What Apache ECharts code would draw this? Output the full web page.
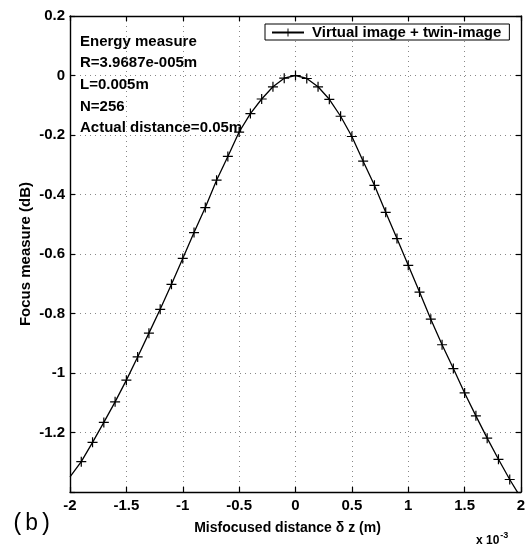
<!DOCTYPE html>
<html>
<head>
<meta charset="utf-8">
<script src="https://cdn.jsdelivr.net/npm/echarts@6/dist/echarts.min.js"></script>
<style>
  html, body { margin: 0; padding: 0; background: #fff; }
  #chart { width: 530px; height: 547px; }
</style>
</head>
<body>
<div id="chart"></div>
<script>
// Misfocused distance, in units of 1e-3 m
const distance = [
  -2.0, -1.9, -1.8, -1.7, -1.6, -1.5, -1.4, -1.3, -1.2, -1.1,
  -1.0, -0.9, -0.8, -0.7, -0.6, -0.5, -0.4, -0.3, -0.2, -0.1,
   0.0,  0.1,  0.2,  0.3,  0.4,  0.5,  0.6,  0.7,  0.8,  0.9,
   1.0,  1.1,  1.2,  1.3,  1.4,  1.5,  1.6,  1.7,  1.8,  1.9, 2.0
];
// Focus measure (dB), virtual image + twin-image
const focusMeasure = [
  -1.349, -1.298, -1.233, -1.166, -1.097, -1.024, -0.946, -0.866, -0.786, -0.702,
  -0.615, -0.528, -0.444, -0.352, -0.272, -0.190, -0.128, -0.079, -0.038, -0.009,
   0.000, -0.010, -0.038, -0.080, -0.137, -0.205, -0.288, -0.369, -0.460, -0.548,
  -0.638, -0.728, -0.819, -0.905, -0.985, -1.067, -1.144, -1.219, -1.290, -1.358, -1.420
];
const xTicks = { min: -2, max: 2, step: 0.5 };
const yTicks = { min: -1.4, max: 0.2, step: 0.2 };
const seriesName = 'Virtual image + twin-image';
const infoLines = [
  'Energy measure',
  'R=3.9687e-005m',
  'L=0.005m',
  'N=256',
  'Actual distance=0.05m'
];

const FONT = '"Liberation Sans", Arial, sans-serif';
const PLUS = 'path://M0,4.4H10V5.6H0Z M4.4,0H5.6V10H4.4Z';

function fmt(v) {
  const r = Math.round(v * 1000) / 1000;
  return String(r);
}

const points = distance.map((x, i) => {
  const item = { value: [x, focusMeasure[i]] };
  if (i === 0 || i === distance.length - 1) item.symbol = 'none';
  return item;
});

const frameAxis = {
  axisLine: { show: true, onZero: false, lineStyle: { color: '#000', width: 1.4 } },
  axisTick: { show: true, inside: true, length: 5, lineStyle: { color: '#000', width: 1.2 } }
};

const chart = echarts.init(document.getElementById('chart'), null, { renderer: 'canvas' });
chart.setOption({
  backgroundColor: '#fff',
  animation: false,
  grid: { left: 70, right: 9, top: 16, bottom: 55, containLabel: false },
  legend: {
    show: true,
    data: [seriesName],
    left: 265,
    top: 24,
    padding: [1, 8, 0, 6],
    itemWidth: 32,
    itemHeight: 10,
    borderColor: '#000',
    borderWidth: 1,
    borderRadius: 0,
    backgroundColor: '#fff',
    textStyle: { fontFamily: FONT, fontSize: 15, fontWeight: 'bold', color: '#000', padding: [0, 0, 0, 3] }
  },
  xAxis: [
    Object.assign({
      type: 'value', position: 'bottom',
      min: xTicks.min, max: xTicks.max, interval: xTicks.step,
      name: 'Misfocused distance \u03b4 z (m)',
      nameLocation: 'middle', nameGap: 29, nameMoveOverlap: false,
      nameTextStyle: { fontFamily: FONT, fontSize: 14, fontWeight: 'bold', color: '#000', padding: [0, 16, 0, 0] },
      axisLabel: {
        show: true, margin: 6, color: '#000', fontFamily: FONT, fontSize: 15, fontWeight: 'bold',
        showMinLabel: true, showMaxLabel: true, formatter: fmt
      },
      splitLine: { show: true, lineStyle: { color: '#888', type: [1, 4], width: 1 } }
    }, frameAxis),
    Object.assign({
      type: 'value', position: 'top',
      min: xTicks.min, max: xTicks.max, interval: xTicks.step,
      axisLabel: { show: false }, splitLine: { show: false }
    }, frameAxis)
  ],
  yAxis: [
    Object.assign({
      type: 'value', position: 'left',
      min: yTicks.min, max: yTicks.max, interval: yTicks.step,
      name: 'Focus measure (dB)',
      nameLocation: 'middle', nameGap: 37, nameRotate: 90, nameMoveOverlap: false,
      nameTextStyle: { fontFamily: FONT, fontSize: 15, fontWeight: 'bold', color: '#000' },
      axisLabel: {
        show: true, margin: 5, color: '#000', fontFamily: FONT, fontSize: 15, fontWeight: 'bold',
        showMinLabel: true, showMaxLabel: true,
        formatter: v => (Math.abs(v - yTicks.min) < 1e-9 ? '' : fmt(v))
      },
      splitLine: { show: true, lineStyle: { color: '#888', type: [1, 4], width: 1 } }
    }, frameAxis),
    Object.assign({
      type: 'value', position: 'right',
      min: yTicks.min, max: yTicks.max, interval: yTicks.step,
      axisLabel: { show: false }, splitLine: { show: false }
    }, frameAxis)
  ],
  series: [{
    name: seriesName,
    type: 'line',
    xAxisIndex: 0,
    yAxisIndex: 0,
    data: points,
    clip: true,
    symbol: PLUS,
    symbolSize: 10,
    showAllSymbol: true,
    lineStyle: { color: '#000', width: 1.3 },
    itemStyle: { color: '#000', borderWidth: 0 },
    emphasis: { disabled: true }
  }],
  graphic: [
    ...infoLines.map((t, i) => ({
      type: 'text', left: 80, top: 34 + i * 21.7,
      style: { text: t, fill: '#000', font: 'bold 15px ' + FONT }
    })),
    {
      type: 'text', left: 11, top: 512,
      style: { text: '(b)', fill: '#000', font: '23px "Liberation Mono", "Courier New", monospace' }
    },
    {
      type: 'text', left: 476, top: 531,
      style: {
        text: '{a|x 10}{s|-3}',
        rich: {
          a: { fontFamily: FONT, fontSize: 12, fontWeight: 'bold', fill: '#000', color: '#000', padding: [6, 0, 0, 0] },
          s: { fontFamily: FONT, fontSize: 9, fontWeight: 'bold', fill: '#000', color: '#000', padding: [0, 0, 4, 1] }
        }
      }
    }
  ]
});
</script>
</body>
</html>
